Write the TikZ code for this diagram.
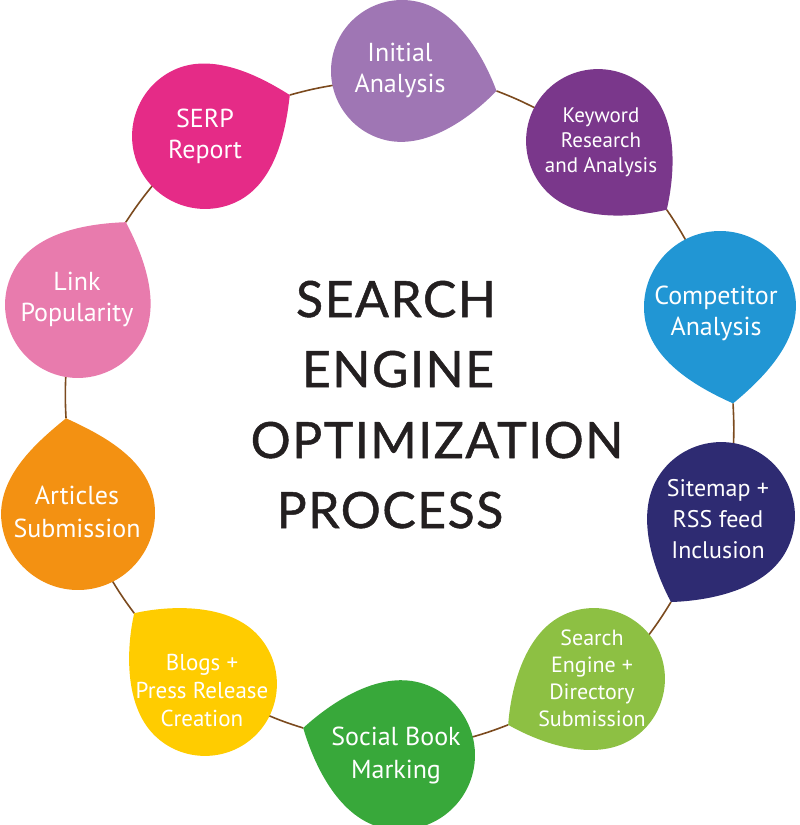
\documentclass[tikz,border=0pt]{standalone}
\usepackage{fontspec}
\setmainfont{PT Sans}
\newfontfamily\titlefont{Lato}[FakeBold=1, LetterSpace=3]
\usetikzlibrary{backgrounds}

\definecolor{serpc}{HTML}{E52B87}
\definecolor{initialc}{HTML}{9F76B4}
\definecolor{keywordc}{HTML}{7A378B}
\definecolor{competitorc}{HTML}{2196D4}
\definecolor{sitemapc}{HTML}{2E2B72}
\definecolor{searchc}{HTML}{8DC043}
\definecolor{socialc}{HTML}{38A83A}
\definecolor{blogsc}{HTML}{FFCC00}
\definecolor{articlesc}{HTML}{F39112}
\definecolor{linkc}{HTML}{E87BAD}
\definecolor{stembrown}{HTML}{7B4A1E}
\definecolor{titleink}{HTML}{231F20}

\tikzset{
  leaftext/.style={text=white, align=center, inner sep=0pt, font=\fontsize{26}{31}\selectfont},
  smalltext/.style={leaftext, font=\fontsize{21}{25}\selectfont},
  titleline/.style={anchor=base, inner sep=0pt, text=titleink, font=\titlefont\fontsize{50}{60}\selectfont},
  stem/.style={draw=stembrown, line width=1.6pt},
}

% leaf: name, colour, centre, angle of tip, radius, tip distance
\newcommand{\leaf}[6]{%
  \begin{scope}[shift={(#3)}, rotate=#4, scale=#5]
    \fill[#2] (#6,0) .. controls (#6-0.25,0.4) and (0.6,1) .. (0,1)
      .. controls (-0.55,1) and (-1,0.55) .. (-1,0)
      .. controls (-1,-0.55) and (-0.55,-1) .. (0,-1)
      .. controls (0.6,-1) and (#6-0.25,-0.4) .. (#6,0) -- cycle;
    \coordinate (#1 tip) at (#6,0);
  \end{scope}}

\begin{document}
\begin{tikzpicture}[x=1pt, y=-1pt]
\useasboundingbox (0,0) rectangle (800,825);

\leaf{serp}{serpc}{205,136}{25.8}{73}{1.29}
\leaf{initial}{initialc}{402,71}{-11.9}{71}{1.36}
\leaf{keyword}{keywordc}{598,141}{-45}{72}{1.35}
\leaf{competitor}{competitorc}{720,307}{-82.3}{76}{1.28}
\leaf{sitemap}{sitemapc}{721,516}{-120.2}{74}{1.345}
\leaf{search}{searchc}{594,679}{-151.9}{71}{1.37}
\leaf{social}{socialc}{400,755}{164.4}{75}{1.34}
\leaf{blogs}{blogsc}{205,684}{135}{72}{1.39}
\leaf{articles}{articlesc}{78,513}{97.2}{77}{1.24}
\leaf{linkpop}{linkc}{78,305}{60}{73}{1.31}

% stems between the leaves
\begin{scope}[on background layer]
\coordinate (initial in) at (335,85);
\coordinate (keyword in) at (537,109);
\coordinate (competitor in) at (690,248);
\coordinate (sitemap in) at (733,455);
\coordinate (search in) at (645,640);
\coordinate (social in) at (465,739);
\coordinate (blogs in) at (265,714);
\coordinate (articles in) at (110,577);
\coordinate (linkpop in) at (66,372);
\coordinate (serp in) at (153,185);
\draw[stem] (serp tip) to[bend left=3] (initial in);
\draw[stem] (initial tip) to[bend left=3] (keyword in);
\draw[stem] (keyword tip) to[bend left=3] (competitor in);
\draw[stem] (competitor tip) to[bend left=3] (sitemap in);
\draw[stem] (sitemap tip) to[bend left=3] (search in);
\draw[stem] (search tip) to[bend left=3] (social in);
\draw[stem] (social tip) to[bend left=3] (blogs in);
\draw[stem] (blogs tip) to[bend left=3] (articles in);
\draw[stem] (articles tip) to[bend left=3] (linkpop in);
\draw[stem] (linkpop tip) to[bend left=3] (serp in);
\end{scope}

\node[leaftext] (serp) at (205,136) {SERP\\Report};
\node[leaftext] (initial) at (400,70) {Initial\\Analysis};
\node[smalltext] (keyword) at (601,142) {Keyword\\Research\\and Analysis};
\node[leaftext] (competitor) at (716,313) {Competitor\\Analysis};
\node[leaftext, font=\fontsize{24}{31}\selectfont] (sitemap) at (718,519) {Sitemap +\\RSS feed\\Inclusion};
\node[smalltext, font=\fontsize{22}{27}\selectfont] (search) at (592,678) {Search\\Engine +\\Directory\\Submission};
\node[leaftext, font=\fontsize{26}{33}\selectfont] (social) at (396,755) {Social Book\\Marking};
\node[leaftext, font=\fontsize{23}{28}\selectfont] (blogs) at (202,690) {Blogs +\\Press Release\\Creation};
\node[leaftext, font=\fontsize{26}{33}\selectfont] (articles) at (77,512) {Articles\\Submission};
\node[leaftext] (linkpop) at (77,299) {Link\\Popularity};

\node[titleline] (title1) at (396,317) {SEARCH};
\node[titleline] (title2) at (398,387) {ENGINE};
\node[titleline] (title3) at (437,458) {OPTIMIZATION};
\node[titleline] (title4) at (390,528) {PROCESS};
\end{tikzpicture}
\end{document}
